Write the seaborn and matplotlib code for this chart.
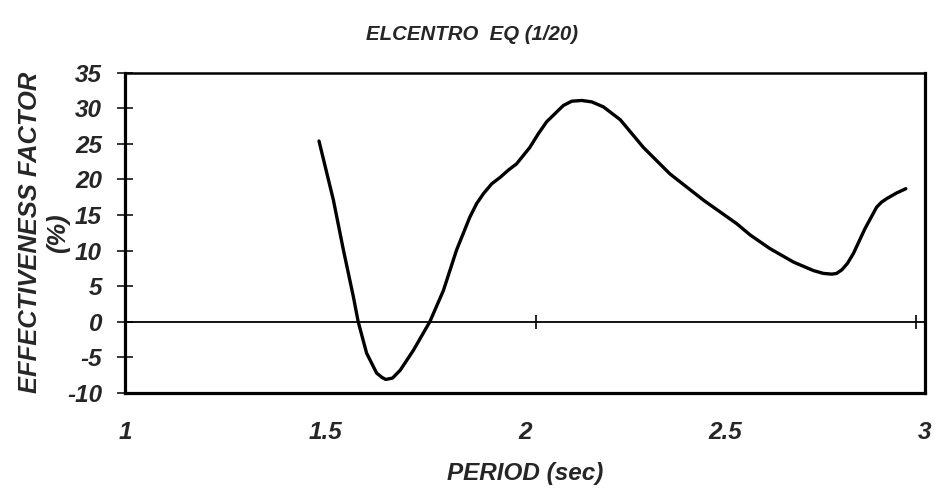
import matplotlib
matplotlib.use("Agg")
import matplotlib.pyplot as plt
import seaborn as sns
import pandas as pd

# ------------------------------------------------------------------
# data (period in sec, effectiveness in %)
# ------------------------------------------------------------------
period = [1.485, 1.521, 1.546, 1.571, 1.583, 1.604, 1.629, 1.642, 1.652,
          1.669, 1.688, 1.721, 1.762, 1.796, 1.829, 1.862, 1.879, 1.896,
          1.917, 1.938, 1.958, 1.979, 2.012, 2.033, 2.054, 2.096, 2.117,
          2.142, 2.167, 2.196, 2.238, 2.296, 2.362, 2.446, 2.529, 2.563,
          2.612, 2.671, 2.721, 2.746, 2.767, 2.779, 2.792, 2.806, 2.821,
          2.850, 2.879, 2.891, 2.904, 2.929, 2.952]
effectiveness = [25.4, 17.1, 10.1, 3.5, 0.0, -4.4, -7.2, -7.8, -8.1,
                 -7.9, -6.8, -4.0, 0.0, 4.4, 10.1, 14.7, 16.6, 18.0,
                 19.4, 20.3, 21.3, 22.2, 24.5, 26.4, 28.1, 30.4, 31.0,
                 31.1, 30.9, 30.2, 28.4, 24.5, 20.8, 17.1, 13.8, 12.2,
                 10.3, 8.4, 7.2, 6.8, 6.7, 6.8, 7.3, 8.2, 9.6,
                 13.1, 16.1, 16.8, 17.3, 18.1, 18.7]

x_ticks = [1, 1.5, 2, 2.5, 3]
x_tick_labels = ["1", "1.5", "2", "2.5", "3"]
y_ticks = [-10, -5, 0, 5, 10, 15, 20, 25, 30, 35]

# small marks sitting on the zero line in the original scan
zero_marks = [2.028, 2.978]

df = pd.DataFrame({"period": period, "eff": effectiveness})

sns.set_style("white")
plt.rcParams["font.family"] = ["Liberation Sans", "DejaVu Sans"]
plt.rcParams["font.weight"] = "bold"
plt.rcParams["font.style"] = "italic"
plt.rcParams["axes.unicode_minus"] = False

fig = plt.figure(figsize=(9.37, 4.95), dpi=100)
ax = fig.add_axes([0.1334, 0.2061, 0.8538, 0.6470])

sns.lineplot(data=df, x="period", y="eff", ax=ax, color="black",
             linewidth=2.4, sort=False, estimator=None)
ax.lines[0].set_solid_joinstyle("round")
ax.axhline(0, color="black", linewidth=1.3, zorder=1)
ax.plot(zero_marks, [0, 0], linestyle="none", marker="|", color="black",
        markersize=10, markeredgewidth=1.2)

ax.set_xlim(1, 3)
ax.set_ylim(-10, 35)
ax.set_xticks(x_ticks)
ax.set_xticklabels(x_tick_labels)
ax.set_yticks(y_ticks)

ax.tick_params(axis="x", length=0, pad=20, labelsize=17.5)
ax.tick_params(axis="y", direction="inout", length=11, width=1.3,
               pad=11, labelsize=17.5, left=True)

for side in ["left", "bottom", "right"]:
    ax.spines[side].set_linewidth(2.3)
    ax.spines[side].set_color("black")
ax.spines["top"].set_linewidth(1.8)
ax.spines["top"].set_color("black")

ax.set_xlabel("PERIOD (sec)", fontsize=17.5, fontweight="bold",
              fontstyle="italic", labelpad=13)
ax.set_ylabel("EFFECTIVENESS FACTOR\n(%)", fontsize=18.4, fontweight="bold",
              fontstyle="italic", linespacing=1.2)
ax.yaxis.set_label_coords(-0.069, 0.5)

fig.text(472 / 937, 1 - 35 / 495, "ELCENTRO  EQ (1/20)", ha="center",
         va="center", fontsize=14.7, fontweight="bold", fontstyle="italic")

fig.savefig("out.png", dpi=100)
